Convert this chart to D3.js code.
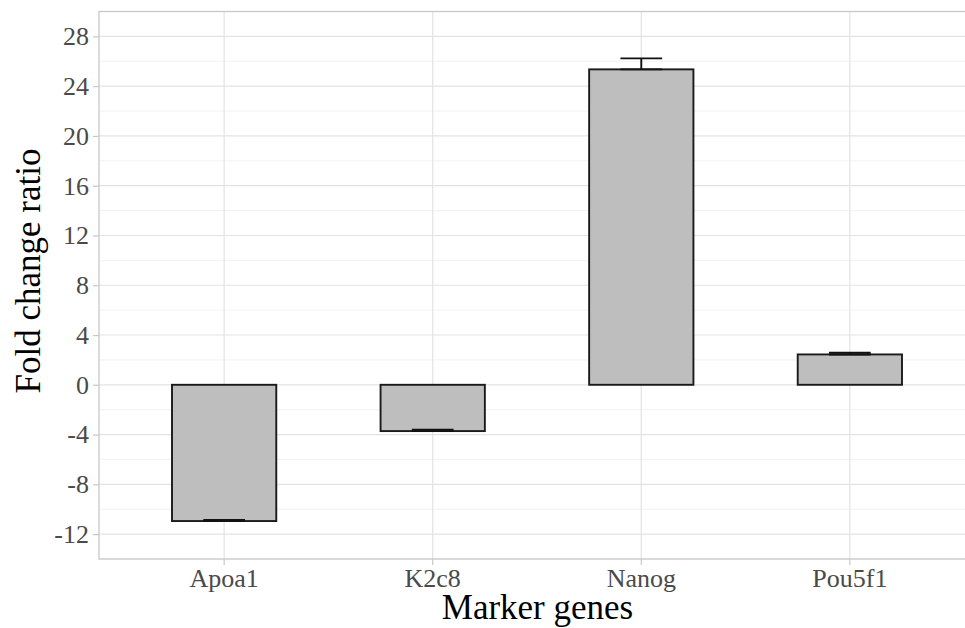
<!DOCTYPE html>
<html>
<head>
<meta charset="utf-8">
<script src="https://cdn.jsdelivr.net/npm/d3@7"></script>
<style>
  html, body { margin: 0; padding: 0; background: #fff; }
  svg { display: block; }
  svg text { font-family: "Liberation Serif", "Times New Roman", serif; }
</style>
</head>
<body>
<div id="chart"></div>
<script>
// Marker gene expression: mean fold change with upper deviation
const genes = ["Apoa1", "K2c8", "Nanog", "Pou5f1"];
const foldChange = [-10.95, -3.72, 25.35, 2.44];
const deviation = [0.08, 0.12, 0.88, 0.13];
const yTicks = [-12, -8, -4, 0, 4, 8, 12, 16, 20, 24, 28];
const yMinor = [-14, -10, -6, -2, 2, 6, 10, 14, 18, 22, 26, 30];

const W = 965, H = 628;
const panel = { left: 99, top: 11.5, right: 975, bottom: 559 };
const serif = '"Liberation Serif", "Times New Roman", serif';

const svg = d3.select("#chart").append("svg")
  .attr("width", W).attr("height", H);

const x = d3.scaleBand()
  .domain(genes)
  .range([panel.left, panel.right])
  .paddingInner(0.5)
  .paddingOuter(0.35);

const y = d3.scaleLinear()
  .domain([-14, 30])
  .range([panel.bottom, panel.top]);

// grid
const grid = svg.append("g");
grid.selectAll("line.minor").data(yMinor).join("line")
  .attr("x1", panel.left).attr("x2", panel.right)
  .attr("y1", d => y(d)).attr("y2", d => y(d))
  .attr("stroke", "#f2f2f2").attr("stroke-width", 1);
grid.selectAll("line.major").data(yTicks).join("line")
  .attr("x1", panel.left).attr("x2", panel.right)
  .attr("y1", d => y(d)).attr("y2", d => y(d))
  .attr("stroke", "#e3e3e3").attr("stroke-width", 1.2);
grid.selectAll("line.vert").data(genes).join("line")
  .attr("x1", d => x(d) + x.bandwidth() / 2).attr("x2", d => x(d) + x.bandwidth() / 2)
  .attr("y1", panel.top).attr("y2", panel.bottom)
  .attr("stroke", "#e3e3e3").attr("stroke-width", 1.2);

// bars
svg.append("g").selectAll("rect").data(genes).join("rect")
  .attr("x", d => x(d))
  .attr("width", x.bandwidth())
  .attr("y", (d, i) => y(Math.max(0, foldChange[i])))
  .attr("height", (d, i) => Math.abs(y(foldChange[i]) - y(0)))
  .attr("fill", "#bebebe")
  .attr("stroke", "#1a1a1a")
  .attr("stroke-width", 1.9);

// error bars: from the mean to mean + deviation
const capW = x.bandwidth() * 0.4;
const eb = svg.append("g").attr("stroke", "#111").attr("stroke-width", 1.9).attr("fill", "none");
genes.forEach((g, i) => {
  const cx = x(g) + x.bandwidth() / 2;
  const lo = foldChange[i], hi = foldChange[i] + deviation[i];
  eb.append("line").attr("x1", cx).attr("x2", cx).attr("y1", y(lo)).attr("y2", y(hi));
  eb.append("line").attr("x1", cx - capW / 2).attr("x2", cx + capW / 2).attr("y1", y(lo)).attr("y2", y(lo));
  eb.append("line").attr("x1", cx - capW / 2).attr("x2", cx + capW / 2).attr("y1", y(hi)).attr("y2", y(hi));
});

// panel border
svg.append("rect")
  .attr("x", panel.left).attr("y", panel.top)
  .attr("width", panel.right - panel.left).attr("height", panel.bottom - panel.top)
  .attr("fill", "none").attr("stroke", "#c8c8c8").attr("stroke-width", 1.3);

// y axis (plain hyphen for negatives)
const yAxis = svg.append("g")
  .attr("transform", `translate(${panel.left},0)`)
  .call(d3.axisLeft(y).tickValues(yTicks).tickSize(6).tickPadding(4).tickFormat(d => String(d)));
yAxis.select(".domain").remove();
yAxis.selectAll(".tick line").attr("stroke", "#c8c8c8").attr("stroke-width", 1.2);
yAxis.selectAll(".tick text")
  .attr("fill", "#4a4a4a")
  .style("font-family", serif).style("font-size", "26px");

// x axis
const xAxis = svg.append("g")
  .attr("transform", `translate(0,${panel.bottom})`)
  .call(d3.axisBottom(x).tickSize(6).tickPadding(4));
xAxis.select(".domain").remove();
xAxis.selectAll(".tick line").attr("stroke", "#c8c8c8").attr("stroke-width", 1.2);
xAxis.selectAll(".tick text")
  .attr("fill", "#4a4a4a")
  .style("font-family", serif).style("font-size", "26px");

// axis titles
svg.append("text")
  .attr("x", 537.5).attr("y", 619)
  .attr("text-anchor", "middle")
  .style("font-family", serif).style("font-size", "35px")
  .attr("fill", "#000")
  .text("Marker genes");

svg.append("text")
  .attr("transform", "translate(40,271) rotate(-90)")
  .attr("text-anchor", "middle")
  .style("font-family", serif).style("font-size", "35px")
  .attr("fill", "#000")
  .text("Fold change ratio");
</script>
</body>
</html>
